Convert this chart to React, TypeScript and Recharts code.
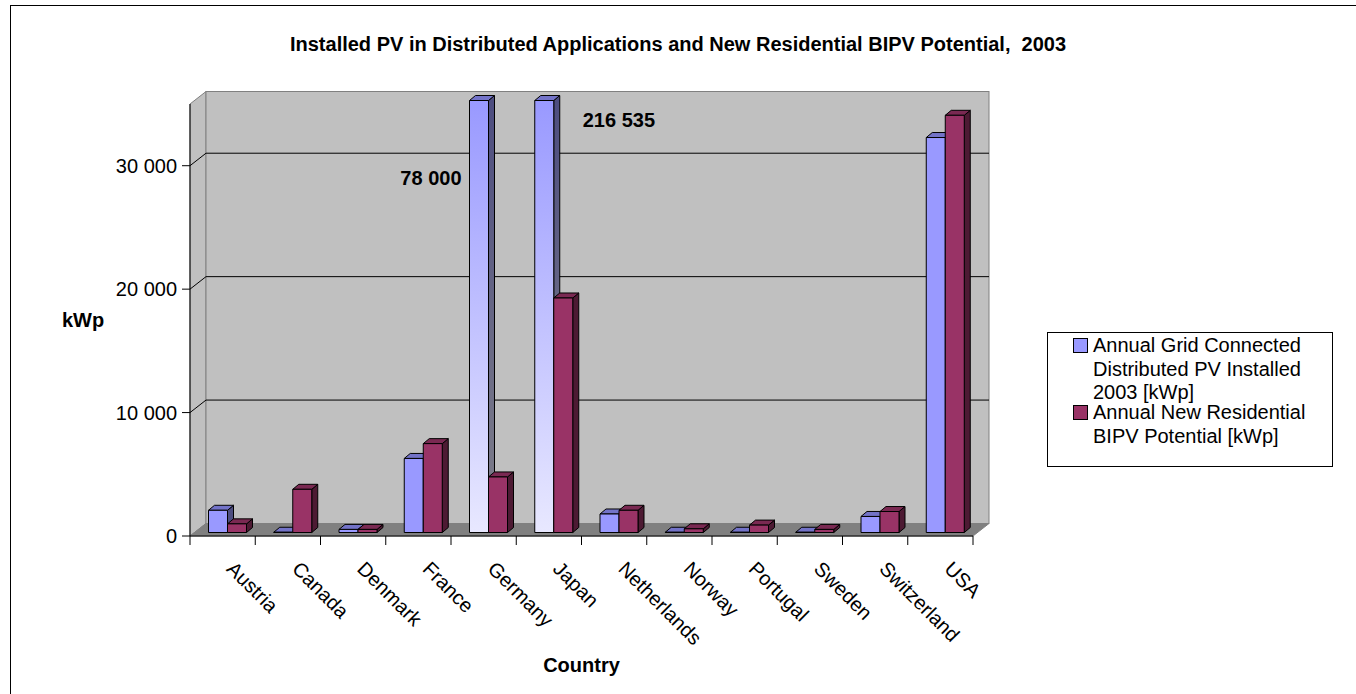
import React from "react";
import { BarChart, Bar, XAxis, YAxis, Legend, LabelList, Customized } from "recharts";

const countries = ["Austria", "Canada", "Denmark", "France", "Germany", "Japan", "Netherlands", "Norway", "Portugal", "Sweden", "Switzerland", "USA"];
const installedPV = [1800, 20, 250, 6000, 78000, 216535, 1500, 20, 20, 20, 1300, 32000];
const bipvPotential = [700, 3500, 250, 7200, 4500, 19000, 1800, 300, 600, 250, 1700, 33800];
const yTicks = [0, 10000, 20000, 30000];
const Y_MAX = 35000;

const rows = countries.map((country, i) => ({
  country,
  installed: installedPV[i],
  bipv: bipvPotential[i],
}));

const FONT = "Arial, 'Liberation Sans', sans-serif";

// layout (page pixels)
const W = 1356;
const H = 694;
const PLOT_LEFT = 190;
const PLOT_TOP = 104;
const PLOT_RIGHT = 973;
const PLOT_BOTTOM = 536;
const PLOT_W = PLOT_RIGHT - PLOT_LEFT;
const PLOT_H = PLOT_BOTTOM - PLOT_TOP;
const BAND = PLOT_W / countries.length;
const Y_AXIS_W = 140;
const X_AXIS_H = 140;

// 3d look
const WALL_DX = 16;
const WALL_DY = -12.5;
const SHIFT_X = 4.5;
const SHIFT_Y = -3.5;
const BOX_DX = 6;
const BOX_DY = -5;

const blue = { front: "#9999ff", top: "#7373c8", side: "#4d4d80" };
const red = { front: "#993366", top: "#7a2952", side: "#4d1a33" };

const LABEL_PLACE: Record<string, { anchor: string; dx: number; dy: number }> = {
  Germany: { anchor: "end", dx: -8, dy: 81 },
  Japan: { anchor: "start", dx: 48, dy: 23 },
};

const fmt = (v: number) => String(v).replace(/\B(?=(\d{3})+(?!\d))/g, " ");
const yOf = (v: number) => PLOT_BOTTOM - (v / Y_MAX) * PLOT_H;

const Walls = () => {
  const L = PLOT_LEFT, R = PLOT_RIGHT, T = PLOT_TOP, B = PLOT_BOTTOM;
  return (
    <g>
      <defs>
        <linearGradient id="overFront" x1="0" y1="0" x2="0" y2="1">
          <stop offset="0%" stopColor="#9999ff" />
          <stop offset="100%" stopColor="#e8e8ff" />
        </linearGradient>
        <linearGradient id="overSide" x1="0" y1="0" x2="0" y2="1">
          <stop offset="0%" stopColor="#4d4d80" />
          <stop offset="100%" stopColor="#80808a" />
        </linearGradient>
      </defs>
      <polygon
        points={`${L},${T} ${L + WALL_DX},${T + WALL_DY} ${L + WALL_DX},${B + WALL_DY} ${L},${B}`}
        fill="#c0c0c0"
        stroke="#808080"
      />
      <rect x={L + WALL_DX} y={T + WALL_DY} width={PLOT_W} height={PLOT_H} fill="#c0c0c0" stroke="#808080" />
      <polygon
        points={`${L},${B} ${L + WALL_DX},${B + WALL_DY} ${R + WALL_DX},${B + WALL_DY} ${R},${B}`}
        fill="#808080"
        stroke="#808080"
      />
      {yTicks.filter((v) => v > 0).map((v) => (
        <g key={v}>
          <line x1={L + WALL_DX} x2={R + WALL_DX} y1={yOf(v) + WALL_DY} y2={yOf(v) + WALL_DY} stroke="#000" />
          <line x1={L} x2={L + WALL_DX} y1={yOf(v)} y2={yOf(v) + WALL_DY} stroke="#000" />
        </g>
      ))}
    </g>
  );
};

const Box3D = (props: any) => {
  const { x, y, width, height, colors, over } = props;
  if (x == null || y == null) return null;
  const h = Math.max(0, height || 0);
  const x0 = x + SHIFT_X;
  const y0 = y + SHIFT_Y;
  const w = width;
  const front = over ? "url(#overFront)" : colors.front;
  const side = over ? "url(#overSide)" : colors.side;
  return (
    <g stroke="#000" strokeWidth={1} strokeLinejoin="round">
      <path d={`M${x0 + w},${y0}l${BOX_DX},${BOX_DY}v${h}l${-BOX_DX},${-BOX_DY}Z`} fill={side} />
      <path d={`M${x0},${y0}l${BOX_DX},${BOX_DY}h${w}l${-BOX_DX},${-BOX_DY}Z`} fill={colors.top} />
      <path d={`M${x0},${y0}h${w}v${h}h${-w}Z`} fill={front} />
    </g>
  );
};

const CountryTick = (props: any) => {
  const { x, payload, index } = props;
  const left = x - BAND / 2;
  const ax = x + 3;
  const ay = PLOT_BOTTOM + 34;
  return (
    <g>
      <line x1={left} x2={left} y1={PLOT_BOTTOM} y2={PLOT_BOTTOM + 9} stroke="#000" />
      {index === countries.length - 1 && (
        <line x1={x + BAND / 2} x2={x + BAND / 2} y1={PLOT_BOTTOM} y2={PLOT_BOTTOM + 9} stroke="#000" />
      )}
      <text
        x={ax}
        y={ay}
        transform={`rotate(45 ${ax} ${ay})`}
        textAnchor="start"
        fontSize={20}
        fontFamily={FONT}
        fill="#000"
      >
        {payload.value}
      </text>
    </g>
  );
};

const OverLabel = (props: any) => {
  const { x, value, index } = props;
  if (value <= Y_MAX) return null;
  const place = LABEL_PLACE[countries[index]];
  if (!place) return null;
  return (
    <text
      x={x + SHIFT_X + place.dx}
      y={PLOT_TOP + place.dy}
      textAnchor={place.anchor as any}
      fontSize={20}
      fontWeight="bold"
      fontFamily={FONT}
      fill="#000"
    >
      {fmt(value)}
    </text>
  );
};

const LegendBox = ({ payload }: any) => (
  <div
    style={{
      width: 286,
      height: 135,
      boxSizing: "border-box",
      border: "1px solid #000",
      background: "#fff",
      paddingTop: 1,
      fontFamily: FONT,
      fontSize: 20,
      lineHeight: "23.5px",
      color: "#000",
    }}
  >
    {(payload || []).map((item: any, i: number) => (
      <div key={i} style={{ position: "relative", paddingLeft: 45, width: 240, marginTop: i > 0 ? -3.5 : 0 }}>
        <span
          style={{
            position: "absolute",
            left: 25,
            top: 4,
            width: 13,
            height: 13,
            border: "1px solid #000",
            background: item.color,
          }}
        />
        {item.value}
      </div>
    ))}
  </div>
);

export default function App() {
  return (
    <div style={{ position: "absolute", left: 0, top: 0, width: W, height: H, overflow: "hidden", background: "#fff" }}>
      <div
        style={{
          position: "absolute",
          left: 10,
          top: 5,
          width: W - 10,
          height: H - 5,
          borderLeft: "1px solid #000",
          borderTop: "1px solid #000",
        }}
      />
      <div
        style={{
          position: "absolute",
          left: 0,
          top: 33,
          width: W,
          textAlign: "center",
          fontFamily: FONT,
          fontSize: 20,
          fontWeight: "bold",
          whiteSpace: "pre",
        }}
      >
        {"Installed PV in Distributed Applications and New Residential BIPV Potential,  2003"}
      </div>
      <BarChart
        width={W}
        height={H}
        data={rows}
        barGap={0}
        margin={{
          top: PLOT_TOP,
          right: W - PLOT_RIGHT,
          bottom: H - PLOT_BOTTOM - X_AXIS_H,
          left: PLOT_LEFT - Y_AXIS_W,
        }}
        style={{ fontFamily: FONT }}
      >
        <Customized component={Walls} />
        <XAxis
          dataKey="country"
          height={X_AXIS_H}
          interval={0}
          tickLine={false}
          axisLine={{ stroke: "#000" }}
          tick={<CountryTick />}
          label={{ value: "Country", position: "insideBottom", offset: 4, fontSize: 20, fontWeight: "bold", fill: "#000" }}
        />
        <YAxis
          type="number"
          domain={[0, Y_MAX]}
          ticks={yTicks}
          width={Y_AXIS_W}
          tickFormatter={fmt}
          tickSize={8}
          tickMargin={5}
          tick={{ fontSize: 20, fill: "#000" }}
          tickLine={{ stroke: "#000" }}
          axisLine={{ stroke: "#000" }}
          label={{ value: "kWp", position: "insideLeft", offset: 12, fontSize: 20, fontWeight: "bold", fill: "#000" }}
        />
        <Legend
          layout="vertical"
          align="center"
          verticalAlign="middle"
          wrapperStyle={{ left: 1047, top: 332, width: 286, height: 135 }}
          content={<LegendBox />}
        />
        <Bar
          dataKey={(d: any) => Math.min(d.installed, Y_MAX)}
          name="Annual Grid Connected Distributed PV Installed 2003 [kWp]"
          fill={blue.front}
          barSize={19}
          isAnimationActive={false}
          shape={(p: any) => <Box3D {...p} colors={blue} over={p.payload && p.payload.installed > Y_MAX} />}
        >
          <LabelList dataKey="installed" content={<OverLabel />} />
        </Bar>
        <Bar
          dataKey={(d: any) => Math.min(d.bipv, Y_MAX)}
          name="Annual New Residential BIPV Potential [kWp]"
          fill={red.front}
          barSize={19}
          isAnimationActive={false}
          shape={(p: any) => <Box3D {...p} colors={red} over={false} />}
        />
      </BarChart>
    </div>
  );
}
